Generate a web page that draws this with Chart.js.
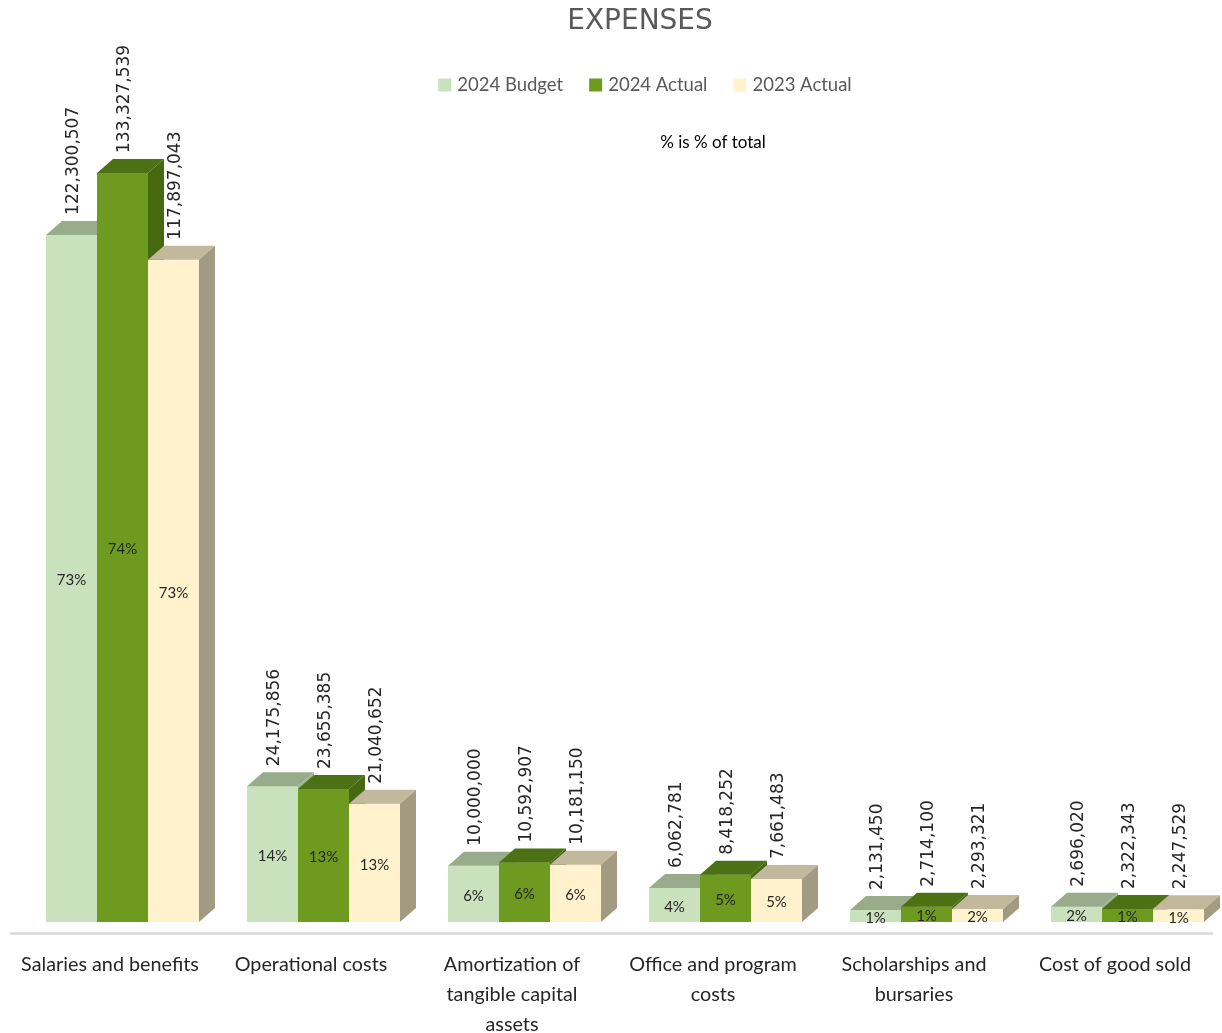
<!DOCTYPE html>
<html>
<head>
<meta charset="utf-8">
<script src="https://cdn.jsdelivr.net/npm/chart.js@4.4.1/dist/chart.umd.min.js"></script>
<style>
  html, body { margin: 0; padding: 0; background: #ffffff; overflow: hidden; }
  #wrap { width: 1280px; height: 1060px; }
</style>
</head>
<body>
<div id="wrap"><canvas id="c" width="1280" height="1060"></canvas></div>
<script>
// ---- data ----
const categories = [
  ['Salaries and benefits'],
  ['Operational costs'],
  ['Amortization of', 'tangible capital', 'assets'],
  ['Office and program', 'costs'],
  ['Scholarships and', 'bursaries'],
  ['Cost of good sold']
];
const seriesNames = ['2024 Budget', '2024 Actual', '2023 Actual'];
const budget2024 = [122300507, 24175856, 10000000, 6062781, 2131450, 2696020];
const actual2024 = [133327539, 23655385, 10592907, 8418252, 2714100, 2322343];
const actual2023 = [117897043, 21040652, 10181150, 7661483, 2293321, 2247529];
const pctBudget2024 = [73, 14, 6, 4, 1, 2];
const pctActual2024 = [74, 13, 6, 5, 1, 1];
const pctActual2023 = [73, 13, 6, 5, 2, 1];
const chartTitle = 'EXPENSES';
const noteText = '% is % of total';

// ---- styles ----
const frontColors = ['#C9E1BC', '#6E9A1F', '#FFF2CC'];
const topColors   = ['#98AC8C', '#4C7115', '#C2B89B'];
const sideColors  = ['#9DB091', '#456810', '#A29B81'];
const DX = 16, DY = 14;
const uiFont = "Lato, 'Open Sans', sans-serif";
const pctSets = [pctBudget2024, pctActual2024, pctActual2023];

const threeD = {
  id: 'threeD',
  beforeDatasetsDraw(chart) {
    const ctx = chart.ctx, a = chart.chartArea;
    ctx.save();
    ctx.strokeStyle = '#D9D9D9';
    ctx.lineWidth = 2.5;
    ctx.beginPath();
    ctx.moveTo(a.left - 12, a.bottom + 11.5);
    ctx.lineTo(a.right - 15, a.bottom + 11.5);
    ctx.stroke();
    ctx.restore();
  },
  afterDatasetsDraw(chart) {
    const ctx = chart.ctx;
    ctx.save();
    // paint bars back-to-front (left to right) so 3D faces overlap correctly
    chart.data.datasets.forEach((ds, i) => {
      const meta = chart.getDatasetMeta(i);
      meta.data.forEach(bar => {
        bar.draw(ctx);
        const p = bar.getProps(['x', 'y', 'base', 'width'], true);
        const l = p.x - p.width / 2, r = p.x + p.width / 2;
        ctx.fillStyle = topColors[i];
        ctx.beginPath();
        ctx.moveTo(l, p.y); ctx.lineTo(l + DX, p.y - DY);
        ctx.lineTo(r + DX, p.y - DY); ctx.lineTo(r, p.y);
        ctx.closePath(); ctx.fill();
        ctx.fillStyle = sideColors[i];
        ctx.beginPath();
        ctx.moveTo(r, p.y); ctx.lineTo(r + DX, p.y - DY);
        ctx.lineTo(r + DX, p.base - DY); ctx.lineTo(r, p.base);
        ctx.closePath(); ctx.fill();
      });
    });
    // labels
    chart.data.datasets.forEach((ds, i) => {
      const meta = chart.getDatasetMeta(i);
      meta.data.forEach((bar, j) => {
        const p = bar.getProps(['x', 'y', 'base', 'width'], true);
        ctx.save();
        ctx.translate(p.x + 2, p.y - DY - 6);
        ctx.rotate(-Math.PI / 2);
        ctx.font = "17px 'DejaVu Sans', sans-serif";
        ctx.fillStyle = '#262626';
        ctx.textAlign = 'left';
        ctx.textBaseline = 'middle';
        ctx.fillText(ds.data[j].toLocaleString('en-US'), 0, 0);
        ctx.restore();
        ctx.font = '15px ' + uiFont;
        ctx.fillStyle = '#262626';
        ctx.textAlign = 'center';
        ctx.textBaseline = 'middle';
        ctx.fillText(pctSets[i][j] + '%', p.x, (p.y + p.base) / 2 + 2);
      });
    });
    ctx.restore();
  },
  afterDraw(chart) {
    const ctx = chart.ctx;
    ctx.save();
    // title
    ctx.font = "28px 'DejaVu Sans', sans-serif";
    ctx.fillStyle = '#595959';
    ctx.textAlign = 'center';
    ctx.textBaseline = 'middle';
    ctx.fillText(chartTitle, 640, 22);
    // legend
    ctx.font = '18.5px ' + uiFont;
    const box = 13, gapBoxText = 6, gapItems = 26;
    const items = chart.data.datasets.map(ds => ({ text: ds.label, color: ds.backgroundColor, w: ctx.measureText(ds.label).width }));
    const total = items.reduce((s, it) => s + box + gapBoxText + it.w, 0) + gapItems * (items.length - 1);
    let x = 645 - total / 2;
    const cy = 85;
    items.forEach(it => {
      ctx.fillStyle = it.color;
      ctx.fillRect(x, cy - box / 2, box, box);
      ctx.fillStyle = '#595959';
      ctx.textAlign = 'left';
      ctx.fillText(it.text, x + box + gapBoxText, cy);
      x += box + gapBoxText + it.w + gapItems;
    });
    // note
    ctx.font = '17px ' + uiFont;
    ctx.fillStyle = '#000000';
    ctx.textAlign = 'center';
    ctx.fillText(noteText, 713, 143);
    ctx.restore();
  }
};

new Chart(document.getElementById('c'), {
  type: 'bar',
  data: {
    labels: categories,
    datasets: [
      { label: seriesNames[0], data: budget2024, backgroundColor: frontColors[0] },
      { label: seriesNames[1], data: actual2024, backgroundColor: frontColors[1] },
      { label: seriesNames[2], data: actual2023, backgroundColor: frontColors[2] }
    ]
  },
  options: {
    responsive: false,
    animation: false,
    events: [],
    devicePixelRatio: 1,
    layout: { padding: { left: 22, right: 52, top: 107.4, bottom: 0 } },
    datasets: { bar: { categoryPercentage: 153 / 201, barPercentage: 1, borderWidth: 0 } },
    plugins: {
      title: { display: false },
      legend: { display: false },
      tooltip: { enabled: false }
    },
    scales: {
      x: {
        grid: { display: false, drawTicks: false },
        border: { display: false },
        ticks: {
          autoSkip: false, maxRotation: 0, minRotation: 0,
          padding: 28, labelOffset: -12.5,
          color: '#262626',
          font: { family: uiFont, size: 19.8, lineHeight: 30 / 19.8 }
        },
        afterFit(scale) {
          scale.height = 1060 - 922;
          scale.paddingLeft = 0;
          scale.paddingRight = 0;
        }
      },
      y: {
        display: false,
        min: 0,
        max: 145000000
      }
    }
  },
  plugins: [threeD]
});
</script>
</body>
</html>
